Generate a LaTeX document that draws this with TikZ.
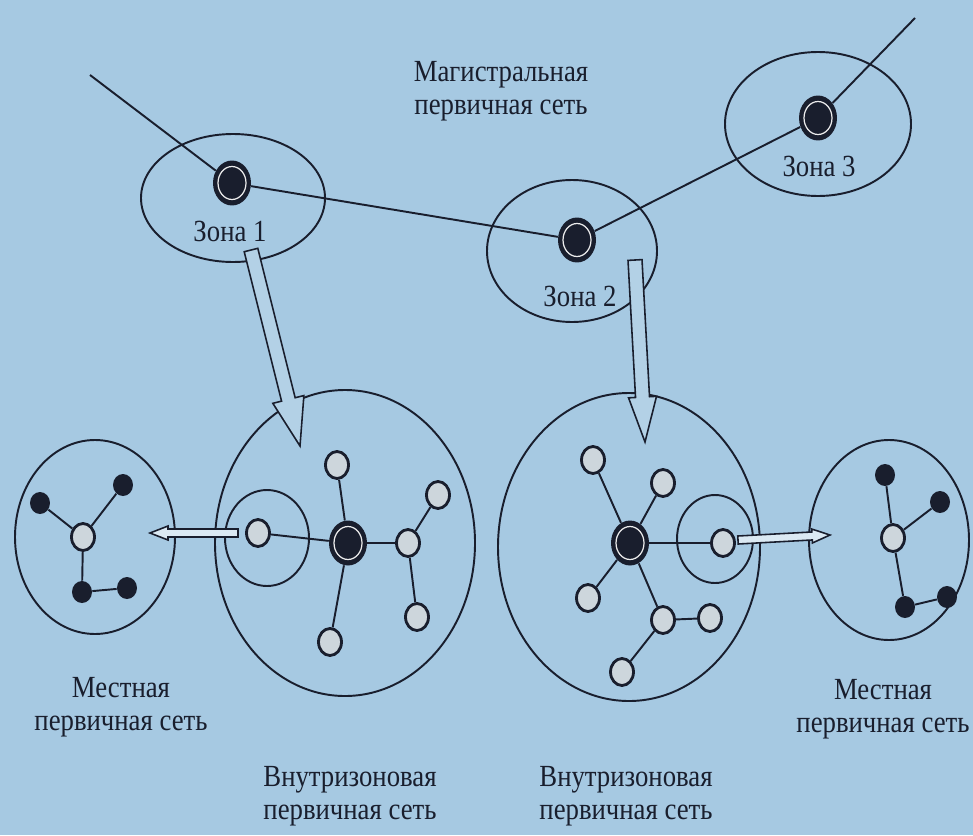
\documentclass[tikz,border=0pt]{standalone}
\usepackage{fontspec}
\newfontfamily\labfont[FakeStretch=0.87]{Liberation Serif}
\usetikzlibrary{calc,shapes.geometric}
\definecolor{bg}{RGB}{166,201,226}
\definecolor{ink}{RGB}{25,30,45}
\definecolor{nodefill}{RGB}{205,214,220}
\newcommand\hollowarrow[6]{% start, tip, shaft half width, head half width, head length, fill
  \coordinate (hb) at ($(#2)!#5!(#1)$);
  \draw[harrow, fill=#6] ($(#1)!#3!90:(#2)$) -- ($(hb)!#3!-90:(#1)$) -- ($(hb)!#4!-90:(#1)$) -- (#2)
    -- ($(hb)!#4!90:(#1)$) -- ($(hb)!#3!90:(#1)$) -- ($(#1)!#3!-90:(#2)$) -- cycle;
}
\begin{document}
\begin{tikzpicture}[x=0.02cm, y=-0.02cm,
  hub/.style={ellipse, fill=ink, minimum width=0.76cm, minimum height=0.9cm, inner sep=0pt,
    path picture={\draw[white!85!gray, line width=0.7pt] (path picture bounding box.center) ellipse [x radius=0.28cm, y radius=0.33cm];}},
  hnode/.style={ellipse, draw=ink, line width=1.6pt, fill=nodefill, minimum width=0.46cm, minimum height=0.54cm, inner sep=0pt},
  bnode/.style={ellipse, fill=ink, minimum width=0.4cm, minimum height=0.44cm, inner sep=0pt},
  link/.style={draw=ink, line width=1.1pt},
  zone/.style={draw=ink, line width=1.1pt},
  harrow/.style={draw=ink, line width=0.9pt},
  lab/.style={text=ink, font=\labfont\fontsize{17.5}{18.7}\selectfont, align=center, inner sep=0pt}]
\useasboundingbox[fill=bg] (0,0) rectangle (973,835);

% zone ellipses
\draw[zone] (233,198) ellipse [x radius=92, y radius=64];
\draw[zone] (572,251) ellipse [x radius=85, y radius=71];
\draw[zone] (818,124) ellipse [x radius=93, y radius=72];
% big and small circles
\draw[zone] (345,543) ellipse [x radius=130, y radius=153];
\draw[zone] (267,538) ellipse [x radius=42, y radius=48];
\draw[zone] (629,547) ellipse [x radius=131, y radius=154];
\draw[zone] (715,539) ellipse [x radius=38, y radius=44];
\draw[zone] (95,537) ellipse [x radius=80, y radius=97];
\draw[zone] (889,540) ellipse [x radius=80, y radius=100];

% backbone
\node[hub] (z1) at (232,183) {};
\node[hub] (z2) at (577,240) {};
\node[hub] (z3) at (818,118) {};
\coordinate (e1) at (90,75);
\coordinate (e3) at (915,18);
\draw[link] (e1) -- (z1);
\draw[link] (z1) -- (z2);
\draw[link] (z2) -- (z3);
\draw[link] (z3) -- (e3);

% left intrazone network
\node[hub] (a0) at (348,543) {};
\node[hnode] (a1) at (258,533) {};
\node[hnode] (a2) at (337,465) {};
\node[hnode] (a3) at (408,543) {};
\node[hnode] (a4) at (438,495) {};
\node[hnode] (a5) at (417,617) {};
\node[hnode] (a6) at (330,642) {};
\draw[link] (a0) -- (a1);
\draw[link] (a0) -- (a2);
\draw[link] (a0) -- (a3);
\draw[link] (a0) -- (a6);
\draw[link] (a3) -- (a4);
\draw[link] (a3) -- (a5);

% right intrazone network
\node[hub] (b0) at (630,543) {};
\node[hnode] (b1) at (593,460) {};
\node[hnode] (b2) at (663,483) {};
\node[hnode] (b3) at (588,598) {};
\node[hnode] (b4) at (663,620) {};
\node[hnode] (b5) at (710,618) {};
\node[hnode] (b6) at (622,672) {};
\node[hnode] (b7) at (723,543) {};
\draw[link] (b0) -- (b1);
\draw[link] (b0) -- (b2);
\draw[link] (b0) -- (b3);
\draw[link] (b0) -- (b4);
\draw[link] (b0) -- (b7);
\draw[link] (b4) -- (b5);
\draw[link] (b4) -- (b6);

% left local network
\node[hnode] (c0) at (83,537) {};
\node[bnode] (c1) at (40,503) {};
\node[bnode] (c2) at (123,485) {};
\node[bnode] (c3) at (82,592) {};
\node[bnode] (c4) at (127,588) {};
\draw[link] (c0) -- (c1);
\draw[link] (c0) -- (c2);
\draw[link] (c0) -- (c3);
\draw[link] (c3) -- (c4);

% right local network
\node[hnode] (d0) at (893,538) {};
\node[bnode] (d1) at (885,475) {};
\node[bnode] (d2) at (940,502) {};
\node[bnode] (d3) at (905,607) {};
\node[bnode] (d4) at (947,597) {};
\draw[link] (d0) -- (d1);
\draw[link] (d0) -- (d2);
\draw[link] (d0) -- (d3);
\draw[link] (d3) -- (d4);

% hollow arrows
\coordinate (pa1) at (251,250); \coordinate (pa2) at (300,446);
\coordinate (pb1) at (635,260); \coordinate (pb2) at (645,442);
\coordinate (pc1) at (238,533); \coordinate (pc2) at (150,533);
\coordinate (pd1) at (738,540); \coordinate (pd2) at (830,535);
\hollowarrow{pa1}{pa2}{0.14cm}{0.32cm}{0.96cm}{bg!85!white}
\hollowarrow{pb1}{pb2}{0.14cm}{0.28cm}{0.9cm}{bg!85!white}
\hollowarrow{pc1}{pc2}{0.08cm}{0.14cm}{0.36cm}{bg!40!white}
\hollowarrow{pd1}{pd2}{0.08cm}{0.14cm}{0.36cm}{bg!40!white}

% labels
\node[lab] (tz1) at (230,231) {Зона 1};
\node[lab] (tz2) at (580,296) {Зона 2};
\node[lab] (tz3) at (819,166) {Зона 3};
\node[lab] (tmain) at (501,91) {Магистральная\\первичная сеть};
\node[lab] (tll) at (121,707) {Местная\\первичная сеть};
\node[lab] (tri) at (626,796) {Внутризоновая\\первичная сеть};
\node[lab] (tli) at (350,796) {Внутризоновая\\первичная сеть};
\node[lab] (trl) at (883,709) {Местная\\первичная сеть};
\end{tikzpicture}
\end{document}
